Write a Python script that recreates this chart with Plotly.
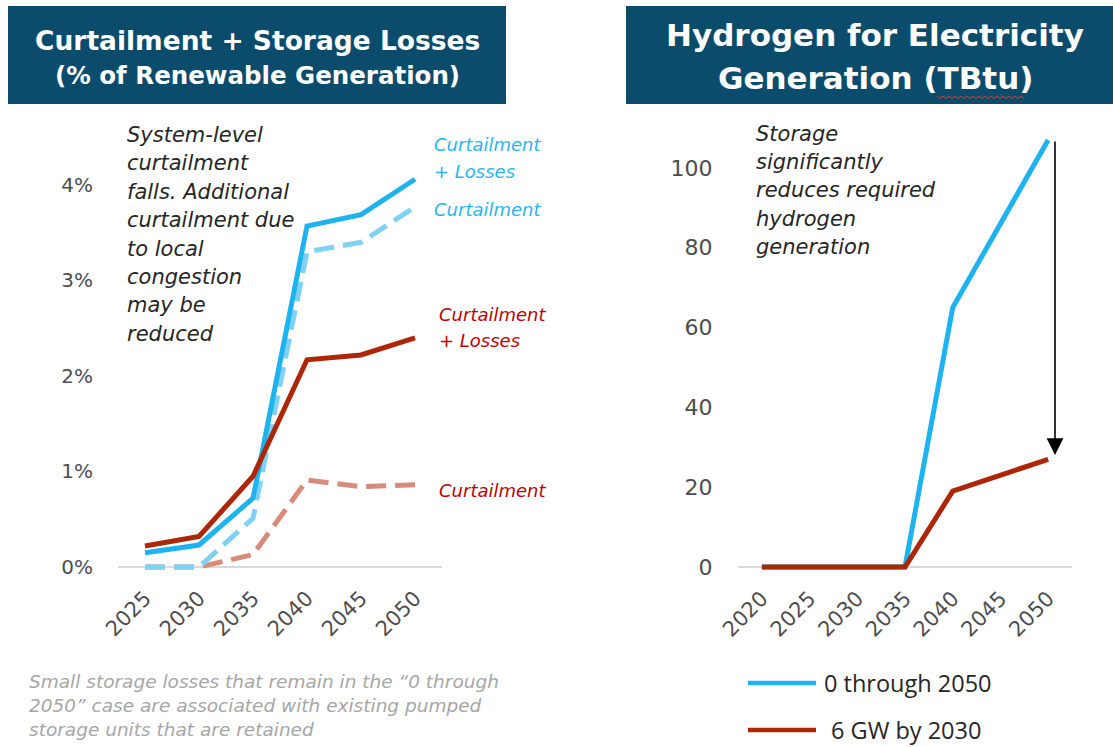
import plotly.graph_objects as go

# ---------------- data ----------------
years_left = ["2025", "2030", "2035", "2040", "2045", "2050"]
curt_loss_zero = [0.15, 0.23, 0.72, 3.57, 3.69, 4.06]   # 0 through 2050, curtailment + losses
curt_zero = [0.0, 0.0, 0.51, 3.30, 3.40, 3.77]          # 0 through 2050, curtailment
curt_loss_6gw = [0.22, 0.32, 0.95, 2.17, 2.22, 2.40]    # 6 GW by 2030, curtailment + losses
curt_6gw = [0.0, 0.0, 0.13, 0.91, 0.84, 0.86]           # 6 GW by 2030, curtailment

years_right = ["2020", "2025", "2030", "2035", "2040", "2045", "2050"]
h2_zero = [0, 0, 0, 0, 65, 86, 107]
h2_6gw = [0, 0, 0, 0, 19, 23, 27]

left_ticks = [0, 1, 2, 3, 4]
right_ticks = [0, 20, 40, 60, 80, 100]

series_names = ["0 through 2050", "6 GW by 2030"]

# ---------------- styling ----------------
W, H = 1113, 747
BLUE = "#1DB3F0"
BLUE_LIGHT = "#7FD2F5"
RED = "#AE2608"
RED_LIGHT = "#D98B7B"
BLUE_TXT = "#2AB5F2"
RED_TXT = "#C00000"
TITLE_BG = "#0B4C6C"
FONT = "DejaVu Sans"
TICK_COLOR = "#4D4D4D"


def px(x):
    return x / W


def py(y):
    return 1 - y / H


fig = go.Figure()

# left chart
fig.add_trace(go.Scatter(x=years_left, y=curt_6gw, mode="lines", xaxis="x", yaxis="y",
                         line=dict(color=RED_LIGHT, width=5, dash="20px,9px"), showlegend=False))
fig.add_trace(go.Scatter(x=years_left, y=curt_zero, mode="lines", xaxis="x", yaxis="y",
                         line=dict(color=BLUE_LIGHT, width=5, dash="20px,9px"), showlegend=False))
fig.add_trace(go.Scatter(x=years_left, y=curt_loss_zero, mode="lines", xaxis="x", yaxis="y",
                         line=dict(color=BLUE, width=5), name=series_names[0], showlegend=False))
fig.add_trace(go.Scatter(x=years_left, y=curt_loss_6gw, mode="lines", xaxis="x", yaxis="y",
                         line=dict(color=RED, width=5), name=series_names[1], showlegend=False))

# right chart
fig.add_trace(go.Scatter(x=years_right, y=h2_zero, mode="lines", xaxis="x2", yaxis="y2",
                         line=dict(color=BLUE, width=5), name=series_names[0], showlegend=False))
fig.add_trace(go.Scatter(x=years_right, y=h2_6gw, mode="lines", xaxis="x2", yaxis="y2",
                         line=dict(color=RED, width=5), name=series_names[1], showlegend=False))

xtick_font = dict(family=FONT, size=21, color=TICK_COLOR)
ytick_font_l = dict(family=FONT, size=20, color=TICK_COLOR)
ytick_font_r = dict(family=FONT, size=22, color=TICK_COLOR)

common_x = dict(type="category", showgrid=False, zeroline=False, showline=False, automargin=False,
                ticks="outside", ticklen=4, tickcolor="rgba(0,0,0,0)", tickangle=-45)
common_y = dict(showgrid=False, zeroline=True, zerolinecolor="#D9D9D9", zerolinewidth=2,
                showline=False, automargin=False,
                ticks="outside", ticklen=20, tickcolor="rgba(0,0,0,0)")

fig.update_layout(
    width=W, height=H,
    margin=dict(l=0, r=0, t=0, b=0, autoexpand=False),
    paper_bgcolor="white", plot_bgcolor="white",
    showlegend=False,
    xaxis=dict(domain=[px(118), px(442)], range=[-0.5, 5.5], tickfont=xtick_font,
               anchor="y", **common_x),
    yaxis=dict(domain=[py(572.7), py(127.7)], range=[-0.06, 4.6], tickvals=left_ticks,
               ticktext=[f"{v}%" for v in left_ticks], tickfont=ytick_font_l, anchor="x", **common_y),
    xaxis2=dict(domain=[px(738), px(1072)], range=[-0.5, 6.5], tickfont=xtick_font,
                anchor="y2", **common_x),
    yaxis2=dict(domain=[py(573), py(128)], range=[-1.5, 110], tickvals=right_ticks,
                tickfont=ytick_font_r, anchor="x2", **common_y),
)

# title boxes
fig.add_shape(type="rect", xref="paper", yref="paper", x0=px(8), x1=px(506), y0=py(104), y1=py(6),
              fillcolor=TITLE_BG, line=dict(width=0), layer="below")
fig.add_shape(type="rect", xref="paper", yref="paper", x0=px(626), x1=px(1113), y0=py(104), y1=py(6),
              fillcolor=TITLE_BG, line=dict(width=0), layer="below")

for txt, yy, sz in [("Curtailment + Storage Losses", 40, 26.5), ("(% of Renewable Generation)", 75, 24.5)]:
    fig.add_annotation(x=px(257), y=py(yy), xref="paper", yref="paper", showarrow=False,
                       text=f"<b>{txt}</b>", font=dict(family=FONT, size=sz, color="white"),
                       xanchor="center", yanchor="middle")
for txt, yy in [("Hydrogen for Electricity", 35), ("Generation (TBtu)", 78)]:
    fig.add_annotation(x=px(875), y=py(yy), xref="paper", yref="paper", showarrow=False,
                       text=f"<b>{txt}</b>", font=dict(family=FONT, size=31, color="white"),
                       xanchor="center", yanchor="middle")

# spell-check squiggle under "TBtu"
sq_x = [937 + 3 * i for i in range(30)]
sq_path = "M " + " L ".join(f"{px(x):.5f},{py(96 if i % 2 == 0 else 98.5):.5f}" for i, x in enumerate(sq_x))
fig.add_shape(type="path", xref="paper", yref="paper", path=sq_path,
              line=dict(color="#E03C3C", width=1))


def add_lines(lines, x, y0, dy, size, color, xanchor="left"):
    for i, t in enumerate(lines):
        fig.add_annotation(x=px(x), y=py(y0 + i * dy), xref="paper", yref="paper",
                           showarrow=False, text=f"<i>{t}</i>", xanchor=xanchor, yanchor="middle",
                           borderpad=0, font=dict(family=FONT, size=size, color=color))


add_lines(["System-level", "curtailment", "falls. Additional", "curtailment due",
           "to local", "congestion", "may be", "reduced"], 126, 135, 28.4, 21, "#262626")
add_lines(["Storage", "significantly", "reduces required", "hydrogen", "generation"],
          755, 134, 28.2, 21, "#262626")

add_lines(["Curtailment", "+ Losses"], 433, 145, 26.5, 18, BLUE_TXT)
add_lines(["Curtailment"], 433, 210, 0, 18, BLUE_TXT)
add_lines(["Curtailment", "+ Losses"], 438, 314, 26.5, 18, RED_TXT)
add_lines(["Curtailment"], 438, 490, 0, 18, RED_TXT)

add_lines(["Small storage losses that remain in the \u201c0 through",
           "2050\u201d case are associated with existing pumped",
           "storage units that are retained"], 28, 681, 24, 18.5, "#A6A6A6")

# arrow
fig.add_annotation(x=px(1055), y=py(455), ax=0, ay=-315, xref="paper", yref="paper",
                   axref="pixel", ayref="pixel", text="", showarrow=True,
                   arrowhead=2, arrowsize=2.1, arrowwidth=1.6, arrowcolor="black")

# legend (manual)
for name, color, yy, xt in [(series_names[0], BLUE, 683, 823), (series_names[1], RED, 730, 830)]:
    fig.add_shape(type="line", xref="paper", yref="paper", x0=px(748), x1=px(816),
                  y0=py(yy), y1=py(yy), line=dict(color=color, width=4.5))
    fig.add_annotation(x=px(xt), y=py(yy), xref="paper", yref="paper", showarrow=False,
                       text=name, xanchor="left", yanchor="middle", borderpad=0,
                       font=dict(family="Open Sans", size=23.5, color="#262626"))

fig.write_html("out.html", config={"displayModeBar": False},
               post_script="document.body.style.margin='0';document.body.style.overflow='hidden';")
